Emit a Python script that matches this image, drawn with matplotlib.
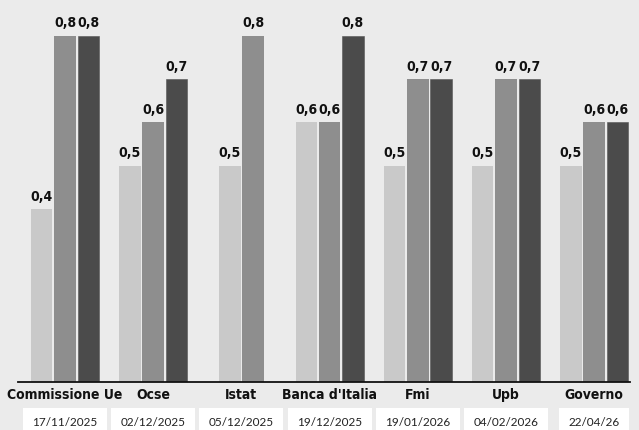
import matplotlib.pyplot as plt
import numpy as np

istituti = ['Commissione Ue', 'Ocse', 'Istat', "Banca d'Italia", 'Fmi', 'Upb', 'Governo']
date = ['17/11/2025', '02/12/2025', '05/12/2025', '19/12/2025', '19/01/2026', '04/02/2026', '22/04/26']
serie_a = [0.4, 0.5, 0.5, 0.6, 0.5, 0.5, 0.5]
serie_b = [0.8, 0.6, 0.8, 0.6, 0.7, 0.7, 0.6]
serie_c = [0.8, 0.7, None, 0.8, 0.7, 0.7, 0.6]

colori = ['#c9c9c9', '#8e8e8e', '#4b4b4b']
sfondo = '#ebebeb'

fig = plt.figure(figsize=(6.39, 4.30), dpi=100, facecolor=sfondo)
ax = fig.add_axes([0, 48 / 430, 1, 382 / 430])
ax.set_facecolor(sfondo)

w = 0.244
step = 0.264
x = np.arange(len(istituti))

for i in range(len(istituti)):
    vals = [serie_a[i], serie_b[i], serie_c[i]]
    idx = [k for k, v in enumerate(vals) if v is not None]
    n = len(idx)
    offs = (np.arange(n) - (n - 1) / 2) * step
    for o, k in zip(offs, idx):
        ax.bar(x[i] + o, vals[k], width=w, color=colori[k],
               edgecolor='#555555' if k == 2 else 'none', linewidth=0.4)
        ax.text(x[i] + o, vals[k] + 0.012, f'{vals[k]:.1f}'.replace('.', ','),
                ha='center', va='bottom', fontsize=10, fontweight='bold',
                family='DejaVu Sans', fontstretch='condensed', color='#111111')

ax.set_xlim(-65 / 88.2, (639 - 65) / 88.2)
ax.set_ylim(0, 382 / 433)
ax.axhline(0, xmin=18 / 639, xmax=630 / 639, color='#111111', linewidth=1.3, clip_on=False)
for s in ax.spines.values():
    s.set_visible(False)
ax.set_xticks([])
ax.set_yticks([])

tr = ax.get_xaxis_transform()
for i in range(len(istituti)):
    ax.text(x[i], -0.034, istituti[i], transform=tr, ha='center', va='center',
            fontsize=10, fontweight='bold', family='DejaVu Sans',
            fontstretch='condensed', color='#111111')
    ax.text(x[i], -0.107, date[i], transform=tr, ha='center', va='center',
            fontsize=8.5, family='Lato', color='#222222',
            bbox=dict(boxstyle='square,pad=0.8', facecolor='white', edgecolor='none'))

fig.savefig('out.png', dpi=100, facecolor=sfondo)
